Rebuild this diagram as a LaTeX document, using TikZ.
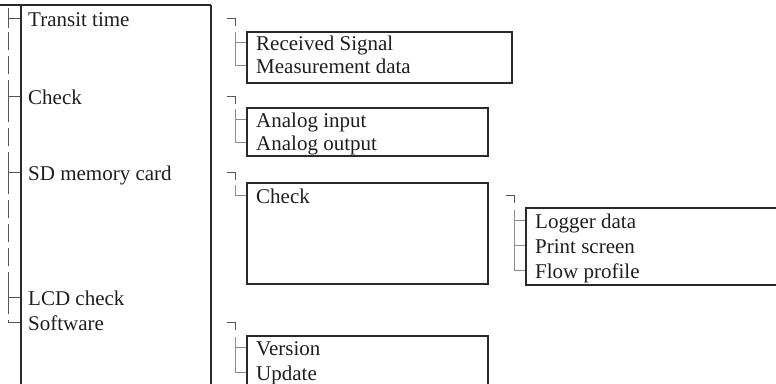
\documentclass[tikz,border=0pt]{standalone}
\usepackage{fontspec}
\setmainfont{Liberation Serif}
\usetikzlibrary{positioning,calc}
\definecolor{Ink}{HTML}{1E1E1E}
\definecolor{Frame}{HTML}{2A2A2A}
\definecolor{Twig}{HTML}{555555}
\definecolor{Branch}{HTML}{8C8C8C}
\tikzset{
  item/.style={anchor=base west,inner sep=0pt,text=Ink,font=\fontsize{21}{25}\selectfont},
  boxnode/.style={draw=Frame,line width=2pt,inner sep=0pt,anchor=north west},
  frame/.style={draw=Frame,line width=2pt},
  twig/.style={draw=Twig,line width=1pt},
  branch/.style={draw=Branch,line width=1pt}
}
\begin{document}
\begin{tikzpicture}[x=1pt,y=-1pt]
  \clip (0,0) rectangle (776,383);
  \draw[frame] (0,5)--(211,5) (21,5)--(21,390) (211,5)--(211,390);
  \node[item] (tt) at (28,26) {Transit time};
  \node[item] (chk) at (28,104) {Check};
  \node[item] (sd) at (28,180) {SD memory card};
  \node[item] (lcd) at (28,305) {LCD check};
  \node[item] (sw) at (28,330) {Software};
  \node[boxnode,minimum width=265,minimum height=51] (b1) at (246,31) {};
  \node[boxnode,minimum width=241,minimum height=48] (b2) at (246,107) {};
  \node[boxnode,minimum width=241,minimum height=101] (b3) at (246,182) {};
  \node[boxnode,minimum width=262,minimum height=77] (b4) at (525,207) {};
  \node[boxnode,minimum width=241,minimum height=60] (b5) at (246,335) {};
  \node[item] (rs) at (256,50) {Received Signal};
  \node[item] (md) at (256,73) {Measurement data};
  \node[item] (ai) at (256,127) {Analog input};
  \node[item] (ao) at (256,150) {Analog output};
  \node[item] (ck) at (256,203) {Check};
  \node[item] (lg) at (535,228) {Logger data};
  \node[item] (ps) at (535,253) {Print screen};
  \node[item] (fp) at (535,278) {Flow profile};
  \node[item] (ver) at (256,355) {Version};
  \node[item] (up) at (256,380) {Update};
  \draw[twig,dash pattern=on 18pt off 6pt] ($(tt.base west)+(-20,-18)$) -- ($(sw.base west)+(-20,-8)$) -- ++(12,0);
  \foreach \n in {tt,chk,sd,lcd} \draw[twig] ($(\n.base west)+(-20,-18)$) -- ++(0,20) ($(\n.base west)+(-20,-8)$) -- ++(12,0);
  \foreach \p/\a/\z in {tt/rs/md,chk/ai/ao,sd/ck/ck,ck/lg/fp,sw/ver/up}{
    \draw[twig] ($(\a.base west |- \p.base)+(-29,-8)$) -- ++(8,0) -- ++(0,8);
    \draw[branch] ($(\a.base west)+(-21,-18)$) -- ($(\z.base west)+(-21,-8)$) -- ++(11,0);
  }
  \foreach \c in {rs,ai,lg,ps,ver} \draw[branch] ($(\c.base west)+(-21,-8)$) -- ++(11,0);
\end{tikzpicture}
\end{document}
